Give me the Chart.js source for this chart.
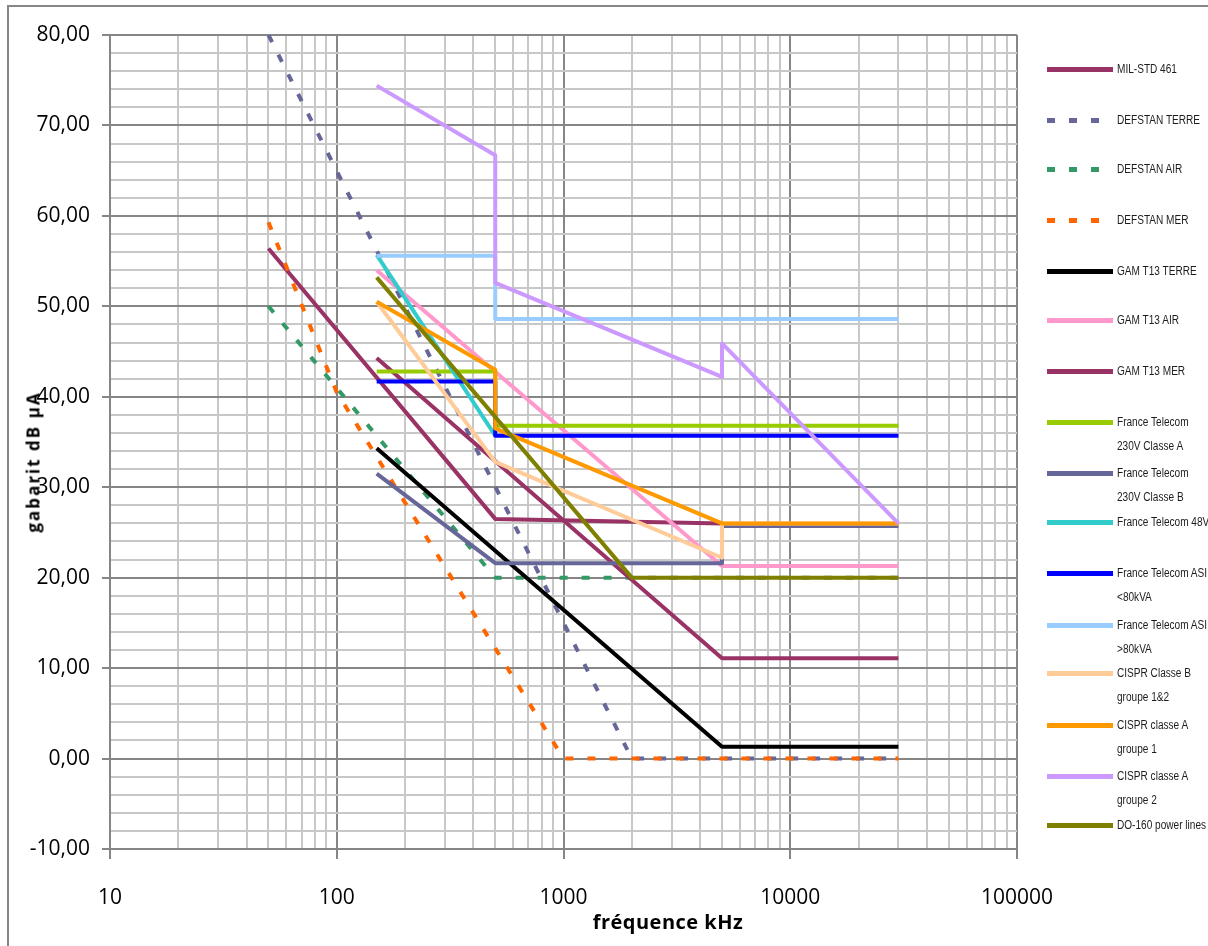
<!DOCTYPE html>
<html lang="fr">
<head>
<meta charset="utf-8">
<title>Gabarits dB µA</title>
<script src="https://cdn.jsdelivr.net/npm/chart.js@4.4.1/dist/chart.umd.min.js"></script>
<style>
  html, body { margin: 0; padding: 0; background: #fff; }
  body { width: 1208px; height: 946px; overflow: hidden; position: relative; font-family: "Open Sans", sans-serif; }
  #frame { position: absolute; left: 7px; top: 5px; width: 1400px; height: 1200px; border: 2px solid #878787; box-sizing: border-box; }
  #chart { position: absolute; left: 0; top: 0; }
  .axis-title { position: absolute; font-weight: bold; color: #000; white-space: nowrap; }
  #ytitle { left: 33px; top: 462px; font-size: 17px; letter-spacing: 2px; transform: translate(-50%, -50%) rotate(-90deg); }
  #xtitle { left: 668px; top: 921px; font-size: 20px; letter-spacing: 0.5px; transform: translate(-50%, -50%); }
  .lg-line { position: absolute; left: 1047px; width: 66px; height: 5px; }
  .lg-text { position: absolute; left: 1117px; font: 12px "Liberation Sans", Arial, sans-serif; color: #1c1c1c; white-space: nowrap; line-height: 14px; transform: scaleX(0.84); transform-origin: 0 50%; }
</style>
</head>
<body>
<div id="frame"></div>
<canvas id="chart" width="1208" height="946"></canvas>
<div class="axis-title" id="ytitle">gabarit dB µA</div>
<div class="axis-title" id="xtitle">fréquence kHz</div>
<div id="legend"></div>
<script>
// Fréquences en kHz, niveaux en dB µA

// MIL-STD 461
const milStdFreq = [50, 500, 5000];
const milStdLevel = [56.4, 26.5, 26.0];

// DEFSTAN
const defstanTerreFreq = [50, 2000, 30000];
const defstanTerreLevel = [80, 0, 0];
const defstanAirFreq = [50, 500, 30000];
const defstanAirLevel = [50, 20, 20];
const defstanMerFreq = [50, 100, 1000, 30000];
const defstanMerLevel = [59.3, 40.5, 0, 0];

// GAM T13
const gamTerreFreq = [150, 5000, 30000];
const gamTerreLevel = [34.3, 1.3, 1.3];
const gamAirFreq = [150, 5000, 30000];
const gamAirLevel = [54.0, 21.3, 21.3];
const gamMerFreq = [150, 5000, 30000];
const gamMerLevel = [44.3, 11.1, 11.1];

// France Telecom
const ft230aFreq = [150, 500, 500, 30000];
const ft230aLevel = [42.8, 42.8, 36.8, 36.8];
const ft230bFreq = [150, 500, 5000, 5000, 30000];
const ft230bLevel = [31.5, 21.6, 21.6, 25.7, 25.7];
const ft48vFreq = [150, 500];
const ft48vLevel = [55.7, 35.7];
const ftAsiLowFreq = [150, 500, 500, 30000];
const ftAsiLowLevel = [41.7, 41.7, 35.7, 35.7];
const ftAsiHighFreq = [150, 500, 500, 30000];
const ftAsiHighLevel = [55.6, 55.6, 48.6, 48.6];

// CISPR
const cisprBFreq = [150, 500, 5000, 5000, 30000];
const cisprBLevel = [50.5, 32.8, 22.2, 26.0, 26.0];
const cisprA1Freq = [150, 500, 500, 5000, 30000];
const cisprA1Level = [50.5, 43.0, 36.5, 26.0, 26.0];
const cisprA2Freq = [150, 500, 500, 5000, 5000, 30000];
const cisprA2Level = [74.4, 66.7, 52.6, 42.2, 45.9, 26.0];

// DO-160
const do160Freq = [150, 2000, 30000];
const do160Level = [53.2, 20.0, 20.0];

// legend labels (one entry per line of text)
const seriesLabels = [
    ['MIL-STD 461'],
    ['DEFSTAN TERRE'],
    ['DEFSTAN AIR'],
    ['DEFSTAN MER'],
    ['GAM T13 TERRE'],
    ['GAM T13 AIR'],
    ['GAM T13 MER'],
    ['France Telecom', '230V Classe A'],
    ['France Telecom', '230V Classe B'],
    ['France Telecom 48V'],
    ['France Telecom ASI', '<80kVA'],
    ['France Telecom ASI', '>80kVA'],
    ['CISPR Classe B', 'groupe 1&2'],
    ['CISPR classe A', 'groupe 1'],
    ['CISPR classe A', 'groupe 2'],
    ['DO-160 power lines']
];

const seriesData = [
    [milStdFreq, milStdLevel],
    [defstanTerreFreq, defstanTerreLevel],
    [defstanAirFreq, defstanAirLevel],
    [defstanMerFreq, defstanMerLevel],
    [gamTerreFreq, gamTerreLevel],
    [gamAirFreq, gamAirLevel],
    [gamMerFreq, gamMerLevel],
    [ft230aFreq, ft230aLevel],
    [ft230bFreq, ft230bLevel],
    [ft48vFreq, ft48vLevel],
    [ftAsiLowFreq, ftAsiLowLevel],
    [ftAsiHighFreq, ftAsiHighLevel],
    [cisprBFreq, cisprBLevel],
    [cisprA1Freq, cisprA1Level],
    [cisprA2Freq, cisprA2Level],
    [do160Freq, do160Level]
];

// styles
const seriesColors = ['#993366', '#666699', '#339966', '#FF6600', '#000000', '#FF99CC', '#993366', '#99CC00',
    '#666699', '#33CCCC', '#0000FF', '#99CCFF', '#FFCC99', '#FF9900', '#CC99FF', '#808000'];
const dashedSeries = [false, true, true, true, false, false, false, false,
    false, false, false, false, false, false, false, false];
const legendRowY = [69, 120, 169, 220, 271, 320, 371, 422, 473, 522, 573, 625, 673, 725, 776, 825];

// axis ticks
const decades = [10, 100, 1000, 10000, 100000];
const xGridTicks = [];
for (let e = 0; e < 4; e++) {
    for (let m = 1; m <= 9; m++) xGridTicks.push(m * decades[e]);
}
xGridTicks.push(100000);
const yGridTicks = [];
for (let v = -10; v <= 80; v += 2) yGridTicks.push(v);

const majorGrid = '#868686';
const minorGrid = '#c8c8c8';

const datasets = seriesData.map(([freq, level], i) => ({
    label: seriesLabels[i].join(' '),
    data: freq.map((f, k) => ({ x: f, y: level[k] })),
    showLine: true,
    borderColor: seriesColors[i],
    backgroundColor: seriesColors[i],
    borderWidth: 4,
    borderDash: dashedSeries[i] ? [8, 14] : [],
    borderCapStyle: 'butt',
    borderJoinStyle: 'round',
    pointRadius: 0,
    pointHoverRadius: 0,
    tension: 0,
    fill: false,
    order: -i // later series on top, like the original
}));

const ctx = document.getElementById('chart').getContext('2d');
new Chart(ctx, {
    type: 'scatter',
    data: { datasets: datasets },
    options: {
        responsive: false,
        animation: false,
        events: [],
        layout: { padding: { top: 35, right: 191, left: 0, bottom: 0 } },
        plugins: {
            legend: { display: false },
            tooltip: { enabled: false }
        },
        scales: {
            x: {
                type: 'logarithmic',
                min: 10,
                max: 100000,
                afterBuildTicks: s => { s.ticks = xGridTicks.map(v => ({ value: v })); },
                afterFit: s => { s.height = 97; },
                border: { color: majorGrid, width: 2 },
                grid: {
                    color: c => (c.tick && decades.includes(c.tick.value)) ? majorGrid : minorGrid,
                    lineWidth: 2,
                    tickLength: 10,
                    tickColor: c => (c.tick && decades.includes(c.tick.value)) ? majorGrid : 'rgba(0,0,0,0)'
                },
                ticks: {
                    autoSkip: false,
                    maxRotation: 0,
                    padding: 26,
                    color: '#000',
                    font: { family: 'Open Sans', size: 21 },
                    callback: v => decades.includes(v) ? String(v) : ''
                }
            },
            y: {
                min: -10,
                max: 80,
                afterBuildTicks: s => { s.ticks = yGridTicks.map(v => ({ value: v })); },
                afterFit: s => { s.width = 110; },
                border: { color: majorGrid, width: 2 },
                grid: {
                    color: c => (c.tick && c.tick.value % 10 === 0) ? majorGrid : minorGrid,
                    lineWidth: 2,
                    tickLength: 8,
                    tickColor: c => (c.tick && c.tick.value % 10 === 0) ? majorGrid : 'rgba(0,0,0,0)'
                },
                ticks: {
                    autoSkip: false,
                    padding: 12,
                    color: '#000',
                    font: { family: 'Open Sans', size: 21 },
                    callback: v => v % 10 === 0 ? v.toFixed(2).replace('.', ',') : ''
                }
            }
        }
    }
});

// Legend on the right
const legend = document.getElementById('legend');
seriesLabels.forEach((lines, i) => {
    const y = legendRowY[i];
    const line = document.createElement('div');
    line.className = 'lg-line';
    line.style.top = (y - 2.5) + 'px';
    if (dashedSeries[i]) {
        line.style.background = `repeating-linear-gradient(to right, ${seriesColors[i]} 0 8px, transparent 8px 22px)`;
    } else {
        line.style.background = seriesColors[i];
    }
    legend.appendChild(line);
    lines.forEach((txt, k) => {
        const t = document.createElement('div');
        t.className = 'lg-text';
        t.style.top = (y - 7 + k * 24) + 'px';
        t.textContent = txt;
        legend.appendChild(t);
    });
});
</script>
</body>
</html>
